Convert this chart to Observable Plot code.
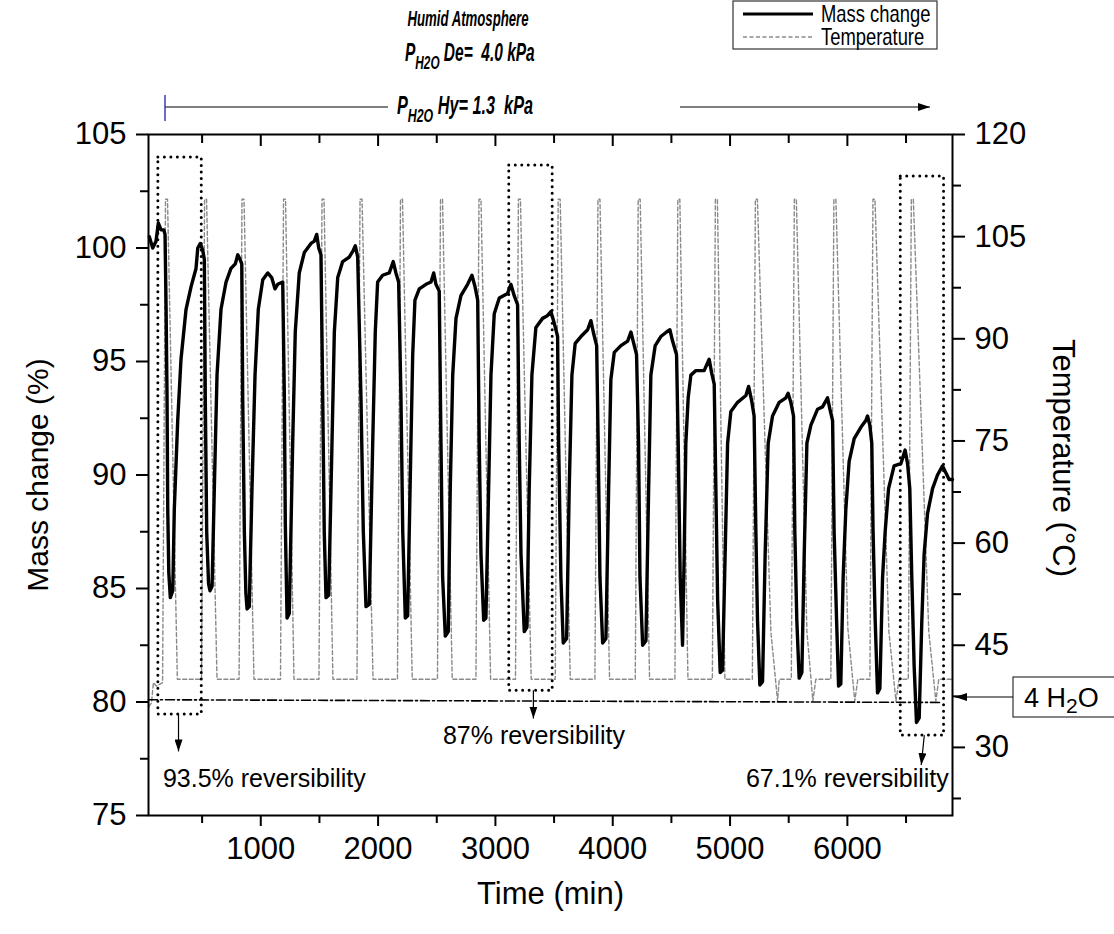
<!DOCTYPE html>
<html><head><meta charset="utf-8">
<script src="https://cdn.jsdelivr.net/npm/d3@7"></script>
<script src="https://cdn.jsdelivr.net/npm/@observablehq/plot@0.6"></script>
<style>
html,body{margin:0;padding:0;background:#fff;}
#chart{width:1114px;height:934px;overflow:hidden;}
</style></head><body><div id="chart"></div>
<script>
// ---- data: mass change (%) vs time (min) ----
const massCurve = [
[50,100.5],[79,100.0],[107,100.3],[127,101.1],[150,100.8],[173,100.8],[184,100.6],
[193,97.3],[201,93.4],[207,88.5],[216,85.7],[229,84.6],[250,84.9],
[263,88.5],[292,92.4],[320,95.1],[363,97.3],[406,98.3],[448,99.1],[463,100.0],[485,100.2],[505,99.9],[519,99.5],
[527,93.4],[539,87.5],[555,85.2],[567,84.9],[585,85.1],
[604,89.4],[627,94.4],[661,97.3],[704,98.5],[746,99.1],[783,99.3],[804,99.7],[823,99.5],[838,99.3],
[846,93.4],[860,87.5],[873,84.8],[883,84.1],[902,84.2],
[925,89.4],[951,94.4],[979,97.3],[1017,98.6],[1059,98.9],[1093,98.7],[1121,98.2],[1144,98.4],[1187,98.5],
[1201,93.4],[1209,87.9],[1224,83.7],[1243,83.9],
[1272,91.4],[1294,96.3],[1328,98.9],[1371,99.8],[1428,100.2],[1456,100.3],[1477,100.6],[1494,100.0],[1513,99.7],
[1528,93.4],[1541,87.5],[1556,84.6],[1579,84.7],
[1607,91.4],[1627,96.3],[1656,98.7],[1698,99.4],[1754,99.6],[1789,99.9],[1806,100.1],[1826,99.6],
[1854,93.4],[1874,87.5],[1897,84.2],[1925,84.3],
[1954,91.4],[1976,96.3],[1996,98.5],[2039,98.8],[2095,98.9],[2129,99.4],[2152,98.9],[2175,98.5],
[2195,93.4],[2210,87.5],[2232,83.7],[2252,83.8],
[2280,91.4],[2295,95.3],[2314,97.7],[2351,98.2],[2408,98.4],[2451,98.5],[2474,98.9],[2493,98.4],[2521,98.1],
[2536,91.4],[2550,85.5],[2573,82.9],[2598,83.1],
[2615,89.4],[2636,94.4],[2664,96.9],[2706,97.9],[2763,98.4],[2800,98.8],[2826,98.3],[2849,97.7],
[2862,91.4],[2877,86.5],[2900,83.6],[2919,83.7],
[2942,89.4],[2962,94.4],[2990,97.1],[3033,97.8],[3104,98.0],[3132,98.4],[3160,97.9],[3189,97.5],
[3203,91.4],[3218,86.5],[3246,83.1],[3269,83.3],
[3288,89.4],[3311,94.4],[3345,96.5],[3402,96.9],[3439,97.0],[3473,97.2],[3501,96.7],[3530,96.1],
[3539,91.4],[3558,85.5],[3578,82.6],[3607,82.8],
[3629,89.4],[3652,94.4],[3680,95.8],[3729,96.1],[3786,96.4],[3814,96.8],[3834,96.3],[3863,95.7],
[3876,91.4],[3891,85.5],[3914,82.6],[3942,82.8],
[3965,89.4],[3984,94.2],[4013,95.4],[4070,95.7],[4127,95.9],[4155,96.3],[4174,95.9],[4203,95.3],
[4220,91.4],[4232,85.5],[4255,82.5],[4283,82.7],
[4306,89.4],[4325,94.4],[4362,95.7],[4410,96.1],[4459,96.3],[4487,96.4],[4510,95.9],[4544,95.3],
[4558,91.4],[4575,85.5],[4595,82.5],
[4609,86.5],[4623,91.4],[4643,93.4],[4666,94.4],[4709,94.6],[4779,94.6],[4822,95.1],[4843,94.5],[4865,94.0],
[4879,89.4],[4894,84.5],[4916,81.3],[4936,81.4],
[4958,86.5],[4979,91.4],[5007,92.8],[5064,93.2],[5135,93.5],[5158,93.9],[5183,93.3],[5205,92.6],
[5220,87.5],[5234,83.6],[5254,80.75],[5277,80.9],
[5299,86.5],[5325,91.4],[5362,92.6],[5419,93.2],[5476,93.4],[5495,93.6],[5518,93.2],[5541,92.6],
[5552,87.5],[5569,83.6],[5589,81.05],[5612,81.3],
[5632,86.5],[5655,91.4],[5689,92.2],[5746,92.9],[5788,93.0],[5831,93.4],[5851,92.9],[5874,92.4],
[5887,87.5],[5908,83.6],[5925,80.7],[5944,80.8],
[5964,85.5],[5987,88.5],[6015,90.6],[6058,91.6],[6115,92.1],[6157,92.4],[6172,92.6],[6191,92.2],[6208,91.4],
[6219,87.5],[6237,83.6],[6257,80.4],[6277,80.6],
[6300,85.5],[6322,87.5],[6351,89.4],[6398,90.4],[6456,90.5],[6492,91.1],[6513,90.5],[6532,89.4],
[6549,85.5],[6569,81.6],[6589,79.1],[6612,79.3],
[6634,83.5],[6654,86.5],[6683,88.3],[6726,89.4],[6768,90.0],[6811,90.4],[6839,90.1],[6867,89.8],[6896,89.8]
];

// ---- data: temperature (°C) vs time (min) ----
const temperatureCurve = [
[45,36.0],[68,36.5],[85,39.5],[110,39.0],[163,39.5],
[188,110.5],[205,110.5],[289,40],
[495,40],[521,110.5],[538,110.5],[627,40],
[815,40],[840,110.5],[857,110.5],[942,40],
[1168,40],[1194,110.5],[1211,110.5],[1283,40],
[1496,40],[1522,110.5],[1539,110.5],[1615,40],
[1820,40],[1846,110.5],[1863,110.5],[1957,40],
[2165,40],[2191,110.5],[2208,110.5],[2291,40],
[2506,40],[2532,110.5],[2549,110.5],[2632,40],
[2834,40],[2860,110.5],[2877,110.5],[2959,40],
[3171,40],[3196,110.5],[3213,110.5],[3305,40],
[3510,40],[3535,110.5],[3552,110.5],[3638,40],
[3848,40],[3874,110.5],[3891,110.5],[3973,40],
[4192,40],[4217,110.5],[4234,110.5],[4314,40],
[4530,40],[4555,110.5],[4572,110.5],[4641,40],
[4849,40],[4875,110.5],[4892,110.5],[4956,40],
[5190,40],[5216,110.5],[5233,110.5],[5348,47],[5405,36.8],[5419,40],
[5522,40],[5548,110.5],[5565,110.5],[5655,47],[5706,36.8],[5731,40],
[5859,40],[5885,110.5],[5902,110.5],[6004,47.5],[6063,36.8],[6089,40],
[6192,40],[6218,110.5],[6235,110.5],[6354,47],[6414,36.8],[6440,40],
[6519,40],[6545,110.5],[6562,110.5],[6694,47],[6754,36.8],[6779,40],[6896,40]
];

// 4 H2O reference level (mass %)
const waterLevel = [[43,80.1],[6796,79.98]];

// ---- ticks ----
const timeTicks = [1000,2000,3000,4000,5000,6000];
const timeMinorTicks = [500,1500,2500,3500,4500,5500,6500];
const massTicks = [75,80,85,90,95,100,105];
const massMinorTicks = [77.5,82.5,87.5,92.5,97.5,102.5];
const tempTicks = [30,45,60,75,90,105,120];
const tempMinorTicks = [22.5,37.5,52.5,67.5,82.5,97.5,112.5];

// ---- annotations ----
const boxes = [
  {t1:127, t2:497, m1:79.45, m2:103.99},
  {t1:3118, t2:3488, m1:80.5, m2:103.63},
  {t1:6455, t2:6824, m1:78.52, m2:103.15}
];
const arrows = [
  {t1:303, m1:79.45, t2:303, m2:77.8},
  {t1:3328, m1:80.5, t2:3328, m2:79.25},
  {t1:6660, m1:78.52, t2:6634, m2:77.2}
];
const notes = [
  {t:166, m:76.59, text:"93.5% reversibility", anchor:"start"},
  {t:3328, m:78.5, text:"87% reversibility", anchor:"middle"},
  {t:6864, m:76.59, text:"67.1% reversibility", anchor:"end"}
];

// temperature axis (20–120 °C) mapped onto the mass axis (75–105 %)
const tempToMass = T => 75 + (T - 20) * 0.3;
const massToTemp = m => 20 + (m - 75) / 0.3;

const FONT = "'Liberation Sans', Arial, Helvetica, sans-serif";

const chart = Plot.plot({
  width: 1114,
  height: 934,
  marginLeft: 148,
  marginRight: 162,
  marginTop: 134,
  marginBottom: 119,
  style: {fontFamily: FONT, background: "white", color: "black", overflow: "visible"},
  x: {domain: [43, 6896]},
  y: {domain: [75, 105]},
  marks: [
    Plot.line(temperatureCurve, {x: d => d[0], y: d => tempToMass(d[1]), stroke: "#8a8a8a", strokeWidth: 1.4, strokeDasharray: "4,2.5"}),
    Plot.line(waterLevel, {x: d => d[0], y: d => d[1], stroke: "black", strokeWidth: 1.6, strokeDasharray: "9,3,2,3"}),
    Plot.line(massCurve, {x: d => d[0], y: d => d[1], stroke: "black", strokeWidth: 3.4, strokeLinejoin: "round"}),
    Plot.rect(boxes, {x1: "t1", x2: "t2", y1: "m1", y2: "m2", fill: "none", stroke: "black", strokeWidth: 3, strokeDasharray: "0,6.5", strokeLinecap: "round"}),
    Plot.frame({stroke: "black", strokeWidth: 2}),
    Plot.axisX({anchor: "bottom", ticks: timeTicks, tickSize: 11, tickPadding: 10, strokeWidth: 2, fontSize: 31, tickFormat: d => String(d), label: null}),
    Plot.axisX({anchor: "bottom", ticks: timeMinorTicks, tickSize: 8, strokeWidth: 2, fill: "none", label: null}),
    Plot.axisX({anchor: "top", ticks: timeTicks, tickSize: -11, strokeWidth: 2, fill: "none", label: null}),
    Plot.axisX({anchor: "top", ticks: timeMinorTicks, tickSize: -8, strokeWidth: 2, fill: "none", label: null}),
    Plot.axisY({anchor: "left", ticks: massTicks, tickSize: 12, tickPadding: 10, strokeWidth: 2, fontSize: 31, tickFormat: d => String(d), label: null}),
    Plot.axisY({anchor: "left", ticks: massMinorTicks, tickSize: 8, strokeWidth: 2, fill: "none", label: null}),
    Plot.axisY({anchor: "right", ticks: tempTicks.map(tempToMass), tickSize: 12, tickPadding: 10, strokeWidth: 2, fontSize: 31, tickFormat: m => String(Math.round(massToTemp(m))), label: null}),
    Plot.axisY({anchor: "right", ticks: tempMinorTicks.map(tempToMass), tickSize: 8, strokeWidth: 2, fill: "none", label: null}),
    Plot.text(["Mass change (%)"], {frameAnchor: "left", dx: -110, rotate: -90, textAnchor: "middle", fontSize: 30, fill: "black"}),
    Plot.text(["Temperature (°C)"], {frameAnchor: "right", dx: 110, dy: -17, rotate: 90, textAnchor: "middle", fontSize: 31, fill: "black"}),
    Plot.text(["Time (min)"], {frameAnchor: "bottom", dy: 88, textAnchor: "middle", fontSize: 31, fill: "black"}),
    Plot.text(notes.filter(d => d.anchor === "start"), {x: "t", y: "m", text: "text", textAnchor: "start", fontSize: 25, fill: "black"}),
    Plot.text(notes.filter(d => d.anchor === "middle"), {x: "t", y: "m", text: "text", textAnchor: "middle", fontSize: 25, fill: "black"}),
    Plot.text(notes.filter(d => d.anchor === "end"), {x: "t", y: "m", text: "text", textAnchor: "end", fontSize: 25, fill: "black"})
  ]
});

document.getElementById("chart").appendChild(chart);

// ---- extra annotations drawn with d3 on the Plot svg ----
const svg = d3.select(chart);
const xs = chart.scale("x"), ys = chart.scale("y");
const defs = svg.append("defs");
defs.append("marker").attr("id", "ahead").attr("viewBox", "0 -4 12 8").attr("refX", 12).attr("refY", 0)
  .attr("markerWidth", 12).attr("markerHeight", 8).attr("markerUnits", "userSpaceOnUse").attr("orient", "auto")
  .append("path").attr("d", "M0,-4L12,0L0,4Z").attr("fill", "black");

svg.append("g").selectAll("line").data(arrows).join("line")
  .attr("x1", d => xs.apply(d.t1)).attr("y1", d => ys.apply(d.m1))
  .attr("x2", d => xs.apply(d.t2)).attr("y2", d => ys.apply(d.m2))
  .attr("stroke", "black").attr("stroke-width", 1.2).attr("marker-end", "url(#ahead)");

// helper: horizontally condensed text (reference uses a narrow face)
function narrowText(parent, x, y, sx, size, opts = {}) {
  const g = parent.append("g").attr("transform", `translate(${x},${y}) scale(${sx},1)`);
  return g.append("text").attr("x", 0).attr("y", 0).attr("font-size", size)
    .attr("text-anchor", opts.anchor || "start").attr("fill", "black");
}

// legend
const lg = svg.append("g").attr("font-family", FONT);
lg.append("rect").attr("x", 733).attr("y", 1).attr("width", 204).attr("height", 48).attr("fill", "white").attr("stroke", "#333").attr("stroke-width", 1.2);
lg.append("line").attr("x1", 743).attr("x2", 813).attr("y1", 14).attr("y2", 14).attr("stroke", "black").attr("stroke-width", 3.2);
lg.append("line").attr("x1", 743).attr("x2", 813).attr("y1", 37).attr("y2", 37).attr("stroke", "#8a8a8a").attr("stroke-width", 1.4).attr("stroke-dasharray", "4,2.5");
narrowText(lg, 821, 22, 0.8, 23).text("Mass change");
narrowText(lg, 821, 45, 0.8, 23).text("Temperature");

// top annotation (bold italic, condensed)
const head = svg.append("g").attr("font-family", FONT).attr("font-weight", "bold").attr("font-style", "italic");
narrowText(head, 468, 26, 0.6, 22, {anchor: "middle"}).text("Humid Atmosphere");
const p1 = narrowText(head, 405, 61, 0.62, 25);
p1.append("tspan").text("P");
p1.append("tspan").attr("dy", 8).attr("font-size", 19).text("H2O");
p1.append("tspan").attr("dy", -8).text(" De=  4.0 kPa");
const p2 = narrowText(head, 397, 114, 0.65, 25);
p2.append("tspan").text("P");
p2.append("tspan").attr("dy", 8).attr("font-size", 19).text("H2O");
p2.append("tspan").attr("dy", -8).text(" Hy= 1.3  kPa");
svg.append("line").attr("x1", 165).attr("x2", 388).attr("y1", 107).attr("y2", 107).attr("stroke", "black").attr("stroke-width", 1);
svg.append("line").attr("x1", 165).attr("x2", 165).attr("y1", 95).attr("y2", 121).attr("stroke", "#3b3bb0").attr("stroke-width", 1.5);
svg.append("line").attr("x1", 680).attr("x2", 930).attr("y1", 107).attr("y2", 107).attr("stroke", "black").attr("stroke-width", 1).attr("marker-end", "url(#ahead)");

// 4 H2O label box with arrow to the axis
const hb = svg.append("g");
hb.append("rect").attr("x", 1013).attr("y", 677).attr("width", 120).attr("height", 40).attr("fill", "white").attr("stroke", "#333").attr("stroke-width", 1.2);
const ht = hb.append("text").attr("x", 1024).attr("y", 707).attr("text-anchor", "start").attr("font-family", FONT).attr("font-size", 27).attr("fill", "black");
ht.append("tspan").text("4 H");
ht.append("tspan").attr("dy", 6).attr("font-size", 21).text("2");
ht.append("tspan").attr("dy", -6).text("O");
hb.append("line").attr("x1", 1013).attr("x2", 955).attr("y1", 697).attr("y2", 697).attr("stroke", "black").attr("stroke-width", 1).attr("marker-end", "url(#ahead)");
</script>
</body></html>
